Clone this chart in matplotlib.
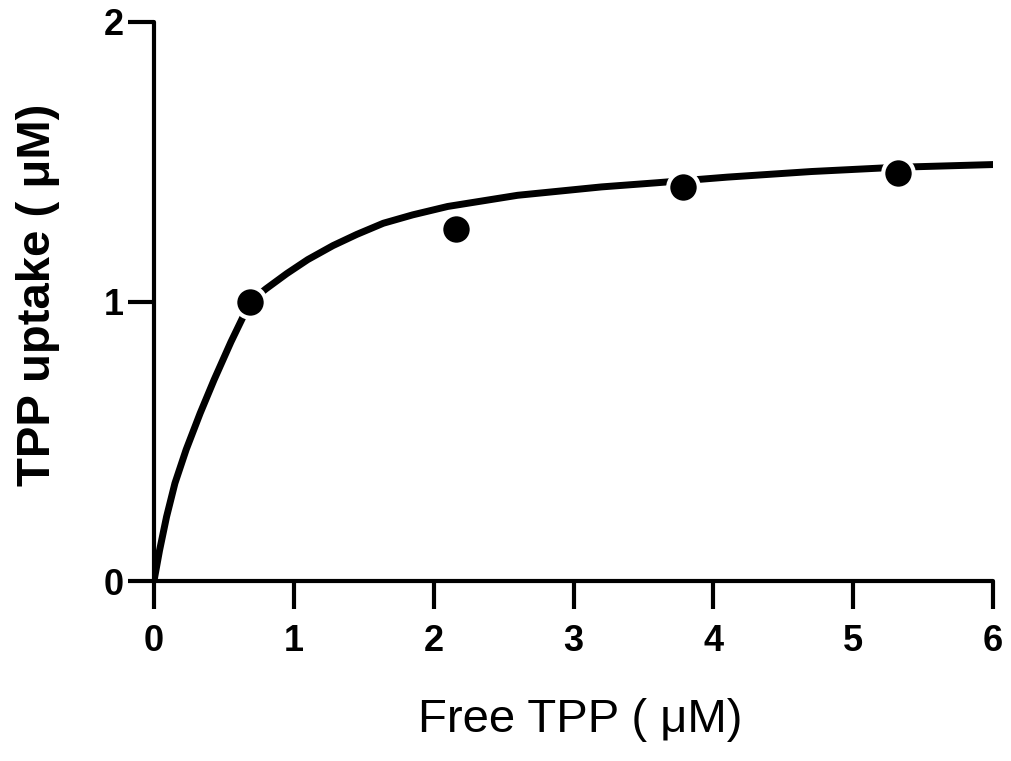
import numpy as np
import matplotlib
matplotlib.use("Agg")
import matplotlib.pyplot as plt

# ================= DATA =================
# measured uptake points
free_tpp = [0.69, 2.16, 3.78, 5.32]
uptake = [1.00, 1.26, 1.41, 1.46]

# saturation curve drawn through the data
curve_x = [0.0, 0.04, 0.09, 0.15, 0.23, 0.33, 0.43, 0.55, 0.69, 0.80,
           0.95, 1.10, 1.28, 1.45, 1.64, 1.85, 2.10, 2.35, 2.60, 2.90,
           3.20, 3.60, 4.10, 4.70, 5.30, 6.00]
curve_y = [0.0, 0.11, 0.23, 0.35, 0.47, 0.60, 0.72, 0.855, 1.00, 1.045,
           1.10, 1.15, 1.20, 1.24, 1.28, 1.31, 1.34, 1.36, 1.38, 1.395,
           1.41, 1.425, 1.445, 1.465, 1.48, 1.49]

x_ticks = [0, 1, 2, 3, 4, 5, 6]
y_ticks = [0, 1, 2]

# ================= PLOT =================
plt.rcParams["font.family"] = ["Liberation Sans", "DejaVu Sans"]

fig = plt.figure(figsize=(10.11, 7.61), dpi=100)
ax = fig.add_axes([0.1523, 0.2365, 0.830, 0.7346])

ax.plot(curve_x, curve_y, color="black", linewidth=5,
        solid_capstyle="round", solid_joinstyle="round", zorder=2)
ax.plot(free_tpp, uptake, "o", color="black", markersize=22,
        markeredgecolor="white", markeredgewidth=3, zorder=3, clip_on=False)

ax.set_xlim(0, 6)
ax.set_ylim(0, 2)
ax.set_xticks(x_ticks)
ax.set_yticks(y_ticks)
ax.set_xticklabels([str(t) for t in x_ticks], fontsize=26, fontweight="bold")
ax.set_yticklabels([str(t) for t in y_ticks], fontsize=26, fontweight="bold")

for side in ["top", "right"]:
    ax.spines[side].set_visible(False)
for side in ["left", "bottom"]:
    ax.spines[side].set_linewidth(3)
    ax.spines[side].set_capstyle("round")

ax.tick_params(axis="x", direction="out", length=20, width=3, pad=11)
ax.tick_params(axis="y", direction="out", length=19, width=3, pad=3)

fig.text(580 / 1011, 1 - 720 / 761, "Free TPP ( \u03bcM)", fontsize=34,
         ha="center", va="center")
fig.text(38 / 1011, 1 - 295 / 761, "TPP uptake ( \u03bcM)", fontsize=34,
         fontweight="bold", rotation=90, ha="center", va="center")

fig.savefig("out.png", dpi=100)
